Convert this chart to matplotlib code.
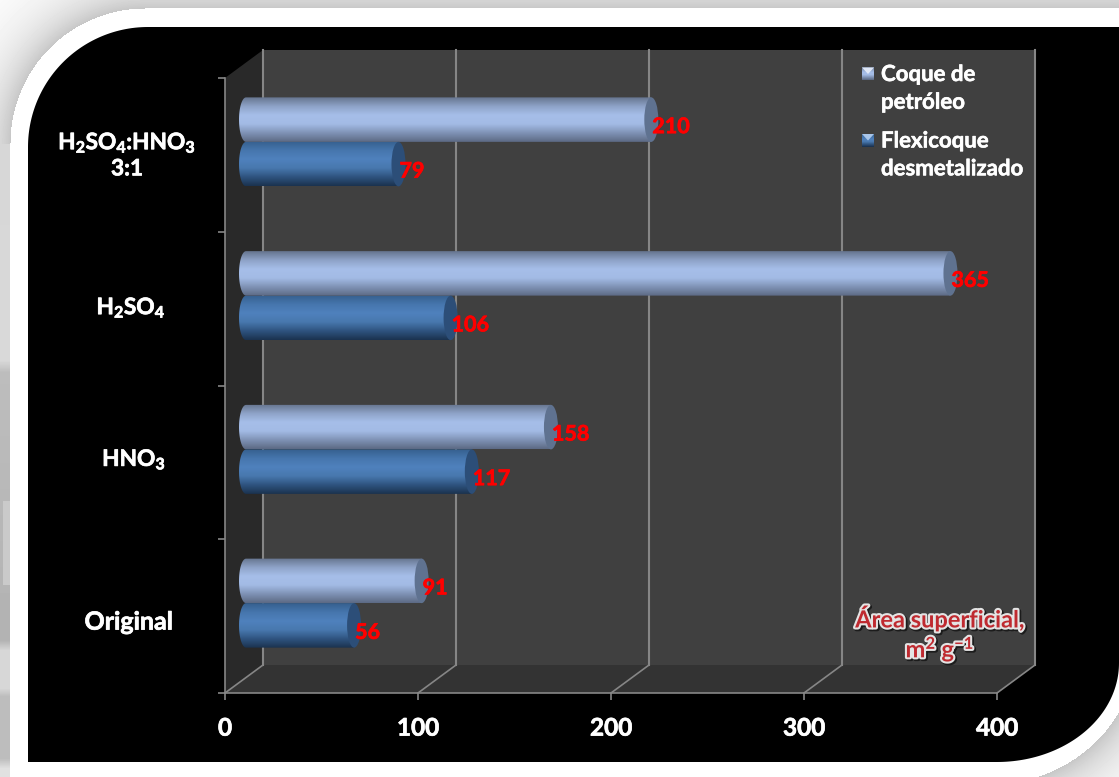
import numpy as np
import matplotlib
matplotlib.use("Agg")
import matplotlib.pyplot as plt
import matplotlib.patheffects as pe
from matplotlib.colors import LinearSegmentedColormap
from matplotlib.patches import Ellipse, Polygon
from matplotlib.path import Path

plt.rcParams['font.family'] = ['Lato', 'DejaVu Sans']
plt.rcParams['font.weight'] = 'bold'
plt.rcParams['mathtext.fontset'] = 'custom'
plt.rcParams['mathtext.rm'] = 'Lato:bold'
plt.rcParams['mathtext.bf'] = 'Lato:bold'
plt.rcParams['mathtext.default'] = 'regular'

# Data
categories = ['Original', 'HNO$_3$', 'H$_2$SO$_4$', 'H$_2$SO$_4$:HNO$_3$\n3:1']
coque_petroleo = [91, 158, 365, 210]
flexicoque = [56, 117, 106, 79]
series_names = ['Coque de\npetróleo', 'Flexicoque\ndesmetalizado']
x_ticks = [0, 100, 200, 300, 400]

W, H = 1119, 777
fig = plt.figure(figsize=(W / 100, H / 100), dpi=100)


def heavy(color, width=0.5):
    # thicken the strokes a little
    return [pe.withStroke(linewidth=width, foreground=color)]


# Page behind the chart: soft shadow around a white rounded card
yy, xx = np.mgrid[0:H, 0:W]
d = np.full(xx.shape, 200.0)
d = np.where(yy < 8, 8 - yy, d)
d = np.where(xx < 10, 10 - xx, d)
tl = (xx < 145) & (yy < 143)
d = np.where(tl, np.hypot(xx - 145, yy - 143) - 135, d)
br = (xx > 985) & (yy > 650)
d = np.where(br, (np.hypot((xx - 985) / 150.0, (yy - 650) / 135.0) - 1) * 140, d)
shade = 1 - 0.22 * np.exp(-np.clip(d, 0, None) / 30.0)
shade = np.where(d <= 0, 1.0, shade)
shade = np.where((xx >= 10) & (yy >= 8) & ~tl & ~br, 1.0, shade)
# grey patches down the left margin
margin = np.interp(yy, [143, 360, 372, 640, 650, 688, 696, 758, 768, 777],
                   [0.84, 0.85, 0.74, 0.70, 0.84, 0.84, 0.74, 0.74, 0.88, 0.88])
shade = np.where((xx < 10) & (yy > 143), margin, shade)
streak = (xx >= 3) & (xx < 10) & (yy > 500) & (yy < 585)
shade = np.where(streak, 0.79, shade)

bg = fig.add_axes([0, 0, 1, 1], zorder=0)
bg.imshow(shade, cmap='gray', vmin=0, vmax=1, extent=(0, W, H, 0), aspect='auto')
t = np.linspace(0, np.pi / 2, 60)
panel = [(1119, 27)]
panel += list(zip(148 - 120 * np.sin(t[::-1]), 147 - 120 * np.cos(t[::-1])))[::-1]
panel += [(28, 762)]
panel += list(zip(997 + 122 * np.sin(t), 663 + 99 * np.cos(t)))
panel += [(1119, 663)]
bg.add_patch(Polygon(panel, closed=True, fc='black', ec='none'))
bg.set_xlim(0, W)
bg.set_ylim(H, 0)
bg.axis('off')

# Chart axes cover the front plane of the 3D box
ax = fig.add_axes([225 / W, (H - 693) / H, 772 / W, 615 / H], zorder=1)
ax.patch.set_alpha(0)
px_x = 772 / 400
px_y = 615 / 4
dx = 38 / px_x
dy = 28 / px_y
bar_shift_x = 21 / px_x
bar_shift_y = 13 / px_y
bar_h = 44.5 / px_y
cap = 7 / px_x

grid_color = '#868686'

# Walls and floor
ax.add_patch(Polygon([(0, 0), (dx, dy), (dx, 4 + dy), (0, 4)], fc='#292929', ec='none', clip_on=False, zorder=1))
ax.add_patch(Polygon([(dx, dy), (400 + dx, dy), (400 + dx, 4 + dy), (dx, 4 + dy)], fc='#404040', ec='none', clip_on=False, zorder=1))
ax.add_patch(Polygon([(0, 0), (400, 0), (400 + dx, dy), (dx, dy)], fc='#333333', ec='none', clip_on=False, zorder=1))
for v in x_ticks:
    ax.plot([v + dx, v + dx], [dy, 4 + dy], color=grid_color, lw=1.5, clip_on=False, zorder=2)
    ax.plot([v, v + dx], [0, dy], color=grid_color, lw=1.2, clip_on=False, zorder=2)

light_cmap = LinearSegmentedColormap.from_list('light', ['#66758f', '#8ea3c8', '#a6bee9', '#a3bbe5', '#8093b6', '#5d6b85'])
dark_cmap = LinearSegmentedColormap.from_list('dark', ['#36608f', '#4676ad', '#4f81bd', '#4878ae', '#2f5480', '#1b3350'])
ramp = np.linspace(0, 1, 64).reshape(-1, 1)


def cylinder(value, y0, cmap, end_color):
    # side of the cylinder, rounded on the left, with its end face on the right
    x0 = bar_shift_x
    x1 = value + bar_shift_x
    ym = y0 + bar_h / 2
    a = np.linspace(np.pi / 2, 3 * np.pi / 2, 30)
    verts = list(zip(x0 + cap * np.cos(a), ym + bar_h / 2 * np.sin(a)))
    verts += [(x1, y0), (x1, y0 + bar_h)]
    outline = Path(verts + [verts[0]], closed=True)
    im = ax.imshow(ramp, cmap=cmap, extent=(x0 - cap, x1, y0, y0 + bar_h), origin='upper',
                   aspect='auto', zorder=3, clip_on=True)
    im.set_clip_path(outline, transform=ax.transData)
    ax.add_patch(Ellipse((x1, ym), 2 * cap, bar_h, fc=end_color, ec='none', clip_on=False, zorder=4))
    ax.annotate(str(value), xy=(x1, ym), xytext=(1, -7), textcoords='offset pixels',
                color='red', fontsize=15.5, ha='left', va='center', annotation_clip=False, zorder=6,
                path_effects=heavy('red'))


for i, (a_val, b_val) in enumerate(zip(coque_petroleo, flexicoque)):
    mid = i + 0.5 + bar_shift_y
    cylinder(b_val, mid - bar_h, dark_cmap, '#2c4e78')
    cylinder(a_val, mid, light_cmap, '#5f7290')

# Axes, ticks and category labels
ax.set_xlim(0, 400)
ax.set_ylim(0, 4)
ax.set_xticks(x_ticks)
ax.set_yticks(range(5))
ax.set_yticklabels([])
ax.tick_params(axis='both', color=grid_color, length=5, width=1.2)
ax.tick_params(axis='x', colors='white', labelsize=17.5, pad=12, color=grid_color)
for lab in ax.get_xticklabels():
    lab.set_path_effects(heavy('white'))
for side in ['top', 'right']:
    ax.spines[side].set_visible(False)
for side in ['left', 'bottom']:
    ax.spines[side].set_color(grid_color)
    ax.spines[side].set_linewidth(1.2)
    ax.spines[side].set_zorder(5)

label_shift_x = [-96, -91, -94, -98]
label_shift_y = [-6, 3, 1, 0]
label_size = [18, 16.3, 16.3, 16.3]
for i, name in enumerate(categories):
    ax.annotate(name, xy=(0, i + 0.5), xytext=(label_shift_x[i], label_shift_y[i]), textcoords='offset pixels',
                color='white', fontsize=label_size[i], ha='center', va='center', linespacing=1.2,
                annotation_clip=False, path_effects=heavy('white'))

# Legend and axis caption, placed in page pixels
top = fig.add_axes([0, 0, 1, 1], zorder=2)
top.patch.set_alpha(0)
top.axis('off')
swatch_ramp = np.linspace(0, 1, 16).reshape(-1, 1)
legend_rows = [(74, light_cmap, '#dfe7f6'), (140.5, dark_cmap, '#a9c6ea')]
for (yc, cm, glint), name in zip(legend_rows, series_names):
    top.imshow(swatch_ramp, cmap=cm, extent=(862, 874, yc + 6.5, yc - 6.5), aspect='auto', zorder=3)
    top.add_patch(Polygon([(862, yc - 6.5), (874, yc - 6.5), (868, yc)], fc=glint, ec='none', zorder=4))
    top.text(881, yc - 10, name, color='white', fontsize=16, ha='left', va='top', linespacing=1.4,
             path_effects=heavy('white', 0.4))
top.set_xlim(0, W)
top.set_ylim(H, 0)

top.text(940, 634, 'Área superficial,\nm$^2$ g$^{-1}$', color='#bf2a30', fontsize=17, ha='center', va='center',
         linespacing=1.1,
         path_effects=[pe.Stroke(linewidth=3.5, foreground='#1c1c1c', offset=(1, -1)),
                       pe.withStroke(linewidth=3, foreground='#e4e4e4')])

fig.savefig('out.png', dpi=100)
